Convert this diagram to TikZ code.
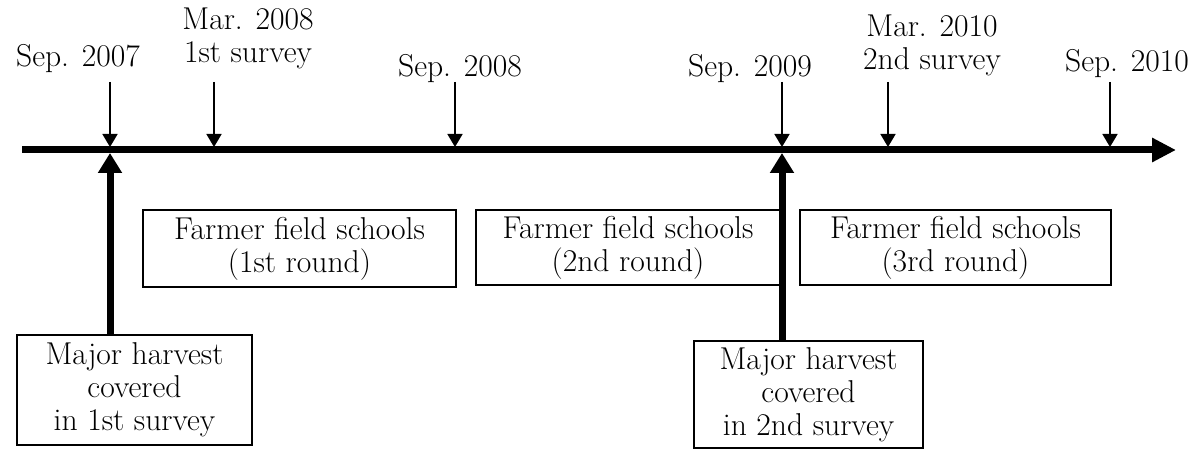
\documentclass[tikz,border=0pt]{standalone}
\usepackage{fontspec}
\usetikzlibrary{arrows.meta}
\begin{document}
\begin{tikzpicture}[x=0.5pt,y=-0.5pt,
  lbl/.style={font=\fontsize{15.8}{16.5}\selectfont, inner sep=0pt, align=center, anchor=base},
  boxstyle/.style={draw, line width=0.8pt, font=\fontsize{15.8}{16.5}\selectfont, align=center, inner sep=0pt},
  tickarrow/.style={line width=0.9pt, -{Triangle[length=6.5pt,width=7.5pt]}},
  bigarrow/.style={line width=3.5pt, -{Triangle[length=10pt,width=11.5pt]}},
  timeline/.style={line width=3.5pt, -{Triangle[length=12pt,width=11.5pt]}}]
\useasboundingbox (0,0) rectangle (1196,449);
% timeline
\coordinate (tl0) at (22,150);
\coordinate (tl1) at (1176,150);
\draw[timeline] (tl0) -- (tl1);
% labels
\node[lbl] (l1) at (78,67) {Sep. 2007};
\node[lbl] (l2) at (248,63) {Mar. 2008\\1st survey};
\node[lbl] (l3) at (460,77) {Sep. 2008};
\node[lbl] (l4) at (750,77) {Sep. 2009};
\node[lbl] (l5) at (932,70) {Mar. 2010\\2nd survey};
\node[lbl] (l6) at (1127,72) {Sep. 2010};
% tick arrows
\foreach \i/\x in {1/110,2/214,3/455,4/782,5/888,6/1110}{
  \coordinate (s\i) at (\x,82);
  \coordinate (e\i) at (\x,147);
  \draw[tickarrow] (s\i) -- (e\i);
}
% boxes
\node[boxstyle, minimum width=156.5pt, minimum height=38.5pt] (f1) at (299.5,248.5) {Farmer field schools\\(1st round)};
\node[boxstyle, minimum width=152pt, minimum height=37.5pt] (f2) at (628,247.5) {Farmer field schools\\(2nd round)};
\node[boxstyle, minimum width=155.5pt, minimum height=37.5pt] (f3) at (955.5,247.5) {Farmer field schools\\(3rd round)};
\node[boxstyle, minimum width=117.5pt, minimum height=55pt] (h1) at (134.5,390) {Major harvest\\covered\\in 1st survey};
\node[boxstyle, minimum width=114.5pt, minimum height=53.5pt] (h2) at (808.5,394.5) {Major harvest\\covered\\in 2nd survey};
% thick arrows
\coordinate (u1) at (110,153);
\coordinate (u2) at (782,153);
\draw[bigarrow] (h1.north -| u1) -- (u1);
\draw[bigarrow] (h2.north -| u2) -- (u2);
\end{tikzpicture}
\end{document}
